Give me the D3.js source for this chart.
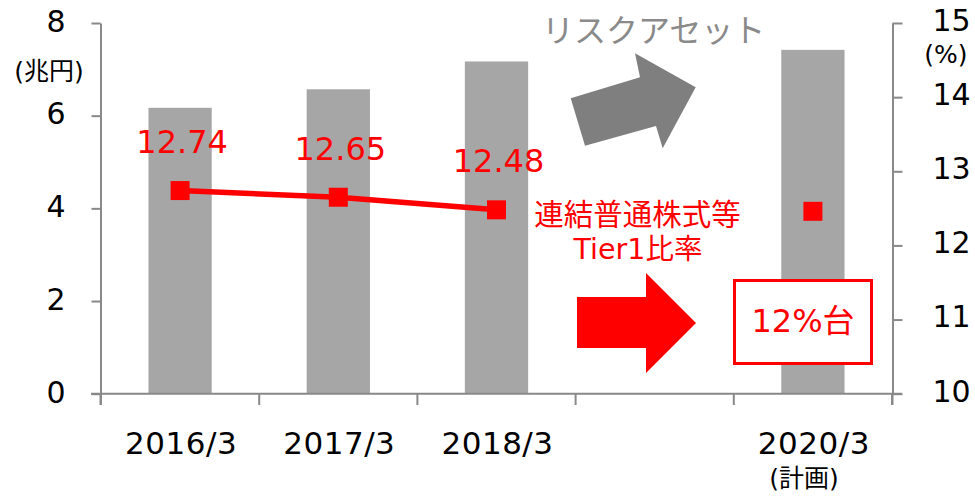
<!DOCTYPE html>
<html>
<head>
<meta charset="utf-8">
<script src="https://cdn.jsdelivr.net/npm/d3@7"></script>
<style>
  html, body { margin: 0; padding: 0; background: #fff; }
  svg { display: block; font-family: "DejaVu Sans", "Noto Sans CJK JP", sans-serif; }
</style>
</head>
<body>
<svg id="chart" width="975" height="499"></svg>
<script>
// Fiscal periods (2019/3 is an empty slot on the axis)
const periods = ["2016/3", "2017/3", "2018/3", "2019/3", "2020/3"];
const periodLabels = ["2016/3", "2017/3", "2018/3", "", "2020/3"];
// Risk assets, trillion yen (left axis)
const riskAssets = [6.17, 6.57, 7.17, null, 7.42];
// Consolidated CET1 ratio, % (right axis)
const cet1Ratio = [12.74, 12.65, 12.48, null, 12.46];
const ratioLabelled = [true, true, true, false, false];
// Axis ticks
const leftTicks = [0, 2, 4, 6, 8];
const rightTicks = [10, 11, 12, 13, 14, 15];

const axisColor = "#898989";
const barColor = "#a6a6a6";
const red = "#ff0000";
const fontStack = "DejaVu Sans, Noto Sans CJK JP, sans-serif";

const svg = d3.select("#chart");

const x = d3.scaleBand().domain(periods).range([101, 892])
  .paddingInner(0.6).paddingOuter(0.3);
const yL = d3.scaleLinear().domain([0, 8]).range([393.7, 23]);
const yR = d3.scaleLinear().domain([10, 15]).range([393.7, 23]);

// Bars
svg.append("g").selectAll("rect")
  .data(periods.map((p, i) => ({ p, v: riskAssets[i] })).filter(d => d.v != null))
  .join("rect")
  .attr("x", d => x(d.p))
  .attr("width", x.bandwidth())
  .attr("y", d => yL(d.v))
  .attr("height", d => yL(0) - yL(d.v))
  .attr("fill", barColor);

// Left axis
const gL = svg.append("g").attr("transform", "translate(100.5,0)")
  .call(d3.axisLeft(yL).tickValues(leftTicks).tickFormat(d3.format("d"))
    .tickSize(9).tickSizeOuter(0).tickPadding(26));
gL.select(".domain").attr("stroke", axisColor).attr("stroke-width", 2);
gL.selectAll(".tick line").attr("stroke", axisColor).attr("stroke-width", 2);
gL.selectAll(".tick text").attr("font-size", 30).attr("fill", "#000")
  .attr("font-family", fontStack).attr("dy", "0.36em").attr("y", -2.5);
svg.append("line").attr("x1", 100.5).attr("x2", 100.5).attr("y1", yL(0)).attr("y2", 405)
  .attr("stroke", axisColor).attr("stroke-width", 2);

// Right axis
const gR = svg.append("g").attr("transform", "translate(892.5,0)")
  .call(d3.axisRight(yR).tickValues(rightTicks).tickFormat(d3.format("d"))
    .tickSize(10).tickSizeOuter(0).tickPadding(30));
gR.select(".domain").attr("stroke", axisColor).attr("stroke-width", 2);
gR.selectAll(".tick line").attr("stroke", axisColor).attr("stroke-width", 2);
gR.selectAll(".tick text").attr("font-size", 30).attr("fill", "#000")
  .attr("font-family", fontStack).attr("dy", "0.36em").attr("y", -3.5);
svg.append("line").attr("x1", 892.5).attr("x2", 892.5).attr("y1", yR(10)).attr("y2", 405)
  .attr("stroke", axisColor).attr("stroke-width", 2);

// Category axis with boundary ticks
const step = x.step();
const edge = p => x(p) - (step - x.bandwidth()) / 2;
const bounds = periods.map(edge).concat([edge(periods[periods.length - 1]) + step]);
svg.append("line").attr("x1", 91).attr("x2", 902).attr("y1", yL(0)).attr("y2", yL(0))
  .attr("stroke", axisColor).attr("stroke-width", 2);
svg.append("g").selectAll("line").data(bounds).join("line")
  .attr("x1", d => d).attr("x2", d => d)
  .attr("y1", yL(0)).attr("y2", 405)
  .attr("stroke", axisColor).attr("stroke-width", 2);
svg.append("g").selectAll("text").data(periods).join("text")
  .attr("x", d => x(d) + x.bandwidth() / 2 + 1)
  .attr("y", 454)
  .attr("text-anchor", "middle")
  .attr("font-size", 31)
  .attr("letter-spacing", 0.5)
  .text((d, i) => periodLabels[i]);
svg.append("text").attr("x", x("2020/3") + x.bandwidth() / 2 - 9).attr("y", 478)
  .attr("dy", "0.36em")
  .attr("text-anchor", "middle").attr("font-size", 25).text("(計画)");

// Axis unit labels
svg.append("text").attr("x", 49).attr("y", 71).attr("dy", "0.36em")
  .attr("text-anchor", "middle").attr("font-size", 25).text("(兆円)");
svg.append("text").attr("x", 946).attr("y", 54).attr("dy", "0.36em")
  .attr("text-anchor", "middle").attr("font-size", 25).text("(%)");

// Ratio line and markers
const pts = periods.map((p, i) => ({ p, v: cet1Ratio[i], lab: ratioLabelled[i] }));
const line = d3.line()
  .defined(d => d.v != null)
  .x(d => x(d.p) + x.bandwidth() / 2)
  .y(d => yR(d.v));
svg.append("path").datum(pts.slice(0, 3))
  .attr("d", line).attr("fill", "none").attr("stroke", red).attr("stroke-width", 5.5);
const ms = 19;
svg.append("g").selectAll("rect").data(pts.filter(d => d.v != null)).join("rect")
  .attr("x", d => x(d.p) + x.bandwidth() / 2 - ms / 2)
  .attr("y", d => yR(d.v) - ms / 2)
  .attr("width", ms).attr("height", ms)
  .attr("fill", red);
svg.append("g").selectAll("text").data(pts.filter(d => d.lab)).join("text")
  .attr("x", d => x(d.p) + x.bandwidth() / 2 + 2)
  .attr("y", d => yR(d.v) - 49)
  .attr("dy", "0.36em")
  .attr("text-anchor", "middle")
  .attr("font-size", 32)
  .attr("fill", red)
  .text(d => d.v.toFixed(2));

// Risk asset annotation: label and tilted grey arrow
svg.append("text").attr("x", 542).attr("y", 30).attr("dy", "0.36em")
  .attr("font-size", 32).attr("fill", "#8a8a8a")
  .attr("font-family", "Noto Sans CJK JP").text("リスクアセット");
svg.append("polygon")
  .attr("points", [[570.7, 98.3], [640, 77.3], [635, 53.3], [695.7, 87.3], [662.7, 148.3], [656, 126], [585, 145.7]].join(" "))
  .attr("fill", "#7f7f7f");

// Ratio annotation: label, red arrow and target box
svg.append("text").attr("x", 637.5).attr("y", 214).attr("dy", "0.36em")
  .attr("text-anchor", "middle").attr("font-size", 29.5).attr("fill", red)
  .attr("font-family", "Noto Sans CJK JP").text("連結普通株式等");
svg.append("text").attr("x", 638).attr("y", 249).attr("dy", "0.36em")
  .attr("text-anchor", "middle").attr("font-size", 28.5).attr("fill", red)
  .text("Tier1比率");
svg.append("polygon")
  .attr("points", [[577, 297], [646, 297], [646, 273], [696, 323], [646, 373], [646, 348], [577, 348]].join(" "))
  .attr("fill", red);
svg.append("rect").attr("x", 734.5).attr("y", 280.5).attr("width", 137).attr("height", 83)
  .attr("fill", "#fff").attr("stroke", red).attr("stroke-width", 3);
svg.append("text").attr("x", 803).attr("y", 320).attr("dy", "0.36em")
  .attr("text-anchor", "middle").attr("font-size", 32).attr("fill", red)
  .text("12%台");
</script>
</body>
</html>
